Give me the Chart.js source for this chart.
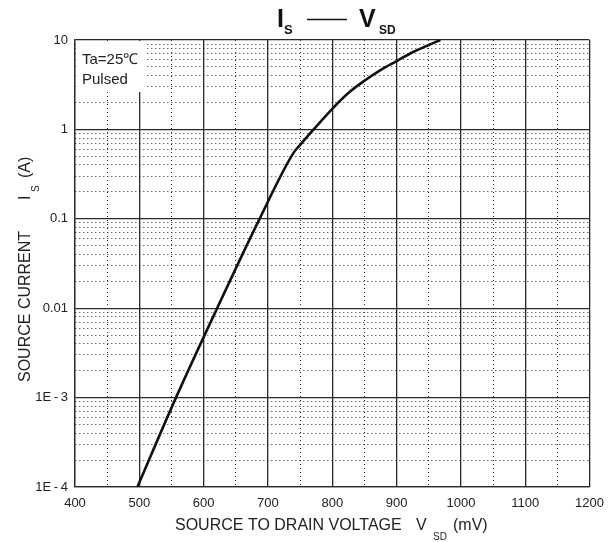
<!DOCTYPE html>
<html>
<head>
<meta charset="utf-8">
<script src="https://cdn.jsdelivr.net/npm/chart.js@4.4.1/dist/chart.umd.min.js"></script>
<style>
  html, body { margin: 0; padding: 0; background: #fff; }
  #wrap { width: 613px; height: 542px; position: relative; }
</style>
</head>
<body>
<div id="wrap"><canvas id="chart"></canvas></div>
<script>
// Is - Vsd
const vsd = [497, 557, 621, 687, 740, 750, 771, 800, 825, 850, 875, 900, 925, 950, 968];
const isd = [0.0001, 0.001, 0.01, 0.1, 0.55, 0.67, 1, 1.7, 2.55, 3.5, 4.6, 5.8, 7.3, 8.8, 10];

const xMajorTicks = [400, 500, 600, 700, 800, 900, 1000, 1100, 1200];
const yDecades = [0.0001, 0.001, 0.01, 0.1, 1, 10];
const yTickLabels = ['1E\u2009-\u20094', '1E\u2009-\u20093', '0.01', '0.1', '1', '10'];

const FONT = "'Liberation Sans', Arial, Helvetica, sans-serif";
const LINE = '#2a2a2a';

// every 1..9 step of each decade, for the log grid
const yAllTicks = [];
yDecades.forEach((d, i) => {
  const mults = i === yDecades.length - 1 ? [1] : [1, 2, 3, 4, 5, 6, 7, 8, 9];
  mults.forEach(m => yAllTicks.push(Number((m * d).toPrecision(3))));
});

function isDecade(v) {
  return yDecades.some(d => Math.abs(v - d) / d < 1e-6);
}

const textPlugin = {
  id: 'texts',
  afterDraw(chart) {
    const ctx = chart.ctx;
    const area = chart.chartArea;
    ctx.save();

    // condition note box
    ctx.fillStyle = '#fff';
    ctx.fillRect(area.left + 1, area.top + 1, 144 - area.left, 91 - area.top);
    ctx.fillStyle = '#222';
    ctx.font = '15px ' + FONT;
    ctx.textAlign = 'left';
    ctx.textBaseline = 'alphabetic';
    ctx.fillText('Ta=25\u2103', 82, 64);
    ctx.fillText('Pulsed', 82, 84);

    // title  Is —— Vsd
    ctx.fillStyle = '#111';
    ctx.font = 'bold 25px ' + FONT;
    ctx.fillText('I', 277, 27);
    ctx.font = 'bold 13px ' + FONT;
    ctx.fillText('S', 284, 34);
    ctx.strokeStyle = '#111';
    ctx.lineWidth = 1.6;
    ctx.beginPath();
    ctx.moveTo(307, 19.5);
    ctx.lineTo(347, 19.5);
    ctx.stroke();
    ctx.font = 'bold 25px ' + FONT;
    ctx.fillText('V', 359, 27);
    ctx.font = 'bold 12px ' + FONT;
    ctx.fillText('SD', 379, 34);

    // x axis title
    ctx.fillStyle = '#222';
    ctx.font = '16px ' + FONT;
    ctx.fillText('SOURCE TO DRAIN VOLTAGE', 175, 530);
    ctx.fillText('V', 416, 530);
    ctx.font = '10px ' + FONT;
    ctx.fillText('SD', 433, 540);
    ctx.font = '16px ' + FONT;
    ctx.fillText('(mV)', 453, 530);

    // y axis title, rotated
    ctx.translate(30, 0);
    ctx.rotate(-Math.PI / 2);
    ctx.font = '16px ' + FONT;
    ctx.fillText('SOURCE CURRENT', -382, 0);
    ctx.fillText('I', -200, 0);
    ctx.font = '10px ' + FONT;
    ctx.fillText('S', -192, 9);
    ctx.font = '16px ' + FONT;
    ctx.fillText('(A)', -178, 0);

    ctx.restore();
  }
};

new Chart(document.getElementById('chart'), {
  type: 'line',
  data: {
    datasets: [{
      data: vsd.map((v, i) => ({ x: v, y: isd[i] })),
      borderColor: '#111',
      borderWidth: 2.6,
      pointRadius: 0,
      fill: false,
      cubicInterpolationMode: 'monotone'
    }]
  },
  options: {
    responsive: true,
    maintainAspectRatio: false,
    animation: false,
    layout: { padding: { left: 0, right: 21, top: 40, bottom: 0 } },
    plugins: {
      legend: { display: false },
      tooltip: { enabled: false }
    },
    scales: {
      x: {
        type: 'linear',
        min: 400,
        max: 1200,
        afterFit(scale) { scale.height = 55; },
        ticks: {
          stepSize: 50,
          autoSkip: false,
          maxRotation: 0,
          padding: 9,
          color: '#222',
          font: { family: FONT, size: 13 },
          callback: v => (xMajorTicks.includes(v) ? String(v) : '')
        },
        grid: {
          drawTicks: false,
          color: LINE,
          lineWidth: c => (c.tick && xMajorTicks.includes(c.tick.value) ? 1.3 : 1)
        },
        border: {
          display: true,
          color: LINE,
          width: 1.3,
          dash: c => (c.tick && !xMajorTicks.includes(c.tick.value) ? [1, 3] : [])
        }
      },
      y: {
        type: 'logarithmic',
        min: 0.0001,
        max: 10,
        afterFit(scale) { scale.width = 75; },
        afterBuildTicks(scale) {
          scale.ticks = yAllTicks.map(v => ({ value: v, major: isDecade(v) }));
        },
        ticks: {
          autoSkip: false,
          padding: 7,
          color: '#222',
          font: { family: FONT, size: 13 },
          callback: v => {
            const i = yDecades.findIndex(d => Math.abs(v - d) / d < 1e-6);
            return i >= 0 ? yTickLabels[i] : '';
          }
        },
        grid: {
          drawTicks: false,
          color: LINE,
          lineWidth: c => (c.tick && isDecade(c.tick.value) ? 1.3 : 1)
        },
        border: {
          display: true,
          color: LINE,
          width: 1.3,
          dash: c => (c.tick && !isDecade(c.tick.value) ? [1, 3] : [])
        }
      }
    }
  },
  plugins: [textPlugin]
});
</script>
</body>
</html>
